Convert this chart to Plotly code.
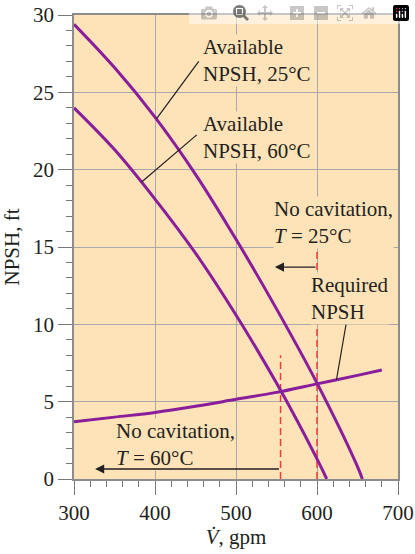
import plotly.graph_objects as go

# flow rate (gpm) and NPSH (ft)
flow_25 = [300, 350, 400, 450, 500, 550, 600, 650, 656]
npsh_avail_25 = [29.4, 26.6, 23.4, 19.7, 15.5, 11.0, 6.2, 0.8, 0.0]

flow_60 = [300, 350, 400, 450, 500, 550, 600, 612]
npsh_avail_60 = [24.0, 21.3, 18.1, 14.6, 10.6, 6.2, 1.3, 0.0]

flow_req = [300, 350, 400, 450, 500, 550, 600, 650, 680]
npsh_req = [3.7, 4.0, 4.3, 4.7, 5.15, 5.6, 6.15, 6.7, 7.05]

# operating limits (intersections) and how high the dashed markers go
limit_flow = [555, 600]
limit_top = [8, 15]

purple = "#8a1d9c"
red = "#ee3b3b"
ink = "#231f20"
paper_bg = "#fee3b8"
font = "Liberation Serif"

fig = go.Figure()

for f, top in zip(limit_flow, limit_top):
    fig.add_trace(go.Scatter(x=[f, f], y=[0, top], mode="lines",
                             line=dict(color=red, width=1.5, dash="7px,4px")))

for x, y in [(flow_25, npsh_avail_25), (flow_60, npsh_avail_60), (flow_req, npsh_req)]:
    fig.add_trace(go.Scatter(x=x, y=y, mode="lines", line_shape="spline",
                             line=dict(color=purple, width=3)))

# leader lines from labels to curves
leaders = [(454, 27.0, 402, 23.3), (451.5, 22.25, 383.5, 19.2), (636.5, 10.2, 624, 6.4)]
for x0, y0, x1, y1 in leaders:
    fig.add_shape(type="line", x0=x0, y0=y0, x1=x1, y1=y1,
                  line=dict(color=ink, width=1.2))

labels = [
    (458, 27.05, "Available<br>NPSH, 25°C"),
    (458, 22.05, "Available<br>NPSH, 60°C"),
    (546, 16.6, "No cavitation,<br><i>T</i> = 25°C"),
    (591, 11.7, "Required<br>NPSH"),
    (350, 2.2, "No cavitation,<br><i>T</i> = 60°C"),
]
for x, y, t in labels:
    fig.add_annotation(x=x, y=y, text=t, showarrow=False, xanchor="left",
                       yanchor="middle", align="left", bgcolor=paper_bg,
                       borderpad=0, font=dict(family=font, size=21, color=ink))

# "no cavitation" arrows pointing to lower flow rates
for f, y, tip in [(600, 13.7, 548), (555, 0.65, 326)]:
    fig.add_annotation(x=tip, y=y, ax=f, ay=y, axref="x", ayref="y",
                       xref="x", yref="y", text="", showarrow=True,
                       arrowhead=2, arrowsize=1.3, arrowwidth=1.4,
                       arrowcolor=ink)

axis_common = dict(showline=True, mirror=True, linecolor="#8c8c8c", linewidth=1.5,
                   showgrid=True, gridcolor="#a8a8a8", gridwidth=1,
                   zeroline=False, ticks="outside", ticklen=14, tickwidth=1.3,
                   tickcolor="#777777", automargin=False, ticklabeloverflow="allow",
                   tickfont=dict(family=font, size=21, color=ink))

fig.update_xaxes(range=[300, 700], dtick=100,
                 minor=dict(dtick=20, ticks="outside", ticklen=6,
                            tickcolor="#777777", tickwidth=1.3, showgrid=False),
                 title=dict(text="<i>V̇</i>, gpm", standoff=2,
                            font=dict(family=font, size=21, color=ink)),
                 **axis_common)
fig.update_yaxes(range=[0, 30], dtick=5,
                 minor=dict(dtick=1, ticks="outside", ticklen=6,
                            tickcolor="#777777", tickwidth=1.3, showgrid=False),
                 title=dict(text="NPSH, ft", standoff=8,
                            font=dict(family=font, size=21, color=ink)),
                 **axis_common)

fig.update_layout(width=415, height=554, showlegend=False,
                  margin=dict(l=74, r=17, t=15, b=75),
                  plot_bgcolor=paper_bg, paper_bgcolor="white",
                  font=dict(family=font, color=ink))

# drop the browser's default 8 px body margin so the figure fills the window
fig.write_html("out.html", post_script="document.body.style.margin = '0';")
